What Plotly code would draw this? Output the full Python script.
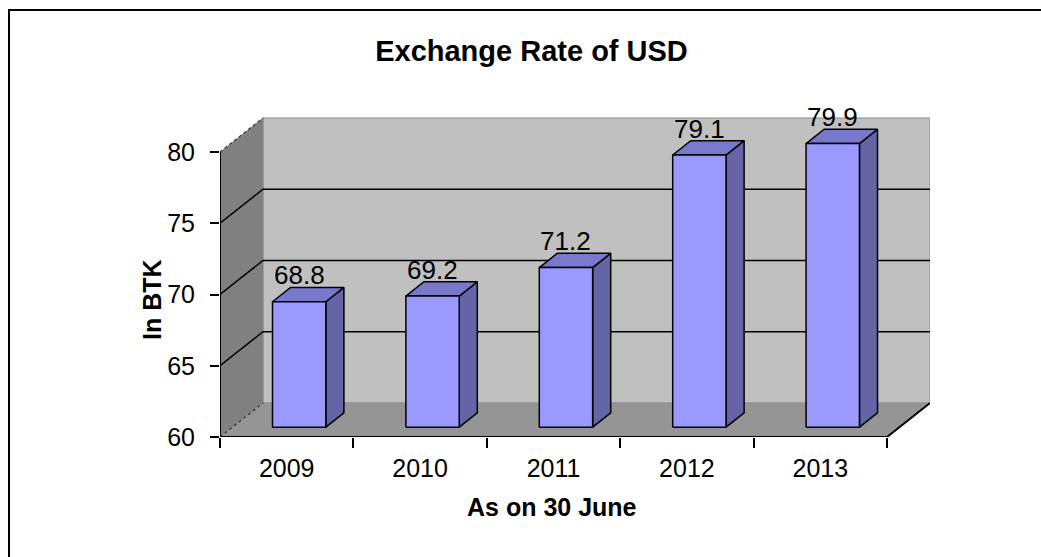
import plotly.graph_objects as go

# ---------------- data ----------------
years = ["2009", "2010", "2011", "2012", "2013"]
rates = [68.8, 69.2, 71.2, 79.1, 79.9]
y_ticks = [60, 65, 70, 75, 80]
y_min, y_max = 60, 80

# ---------------- layout geometry ----------------
FIG_W, FIG_H = 1041, 557
L, R, T, B = 220, 930, 117, 437          # plot area in px
FRONT_RIGHT, FRONT_TOP = 887, 152         # end of front x axis / y of y_max on front
n = len(years)
px_cat = (FRONT_RIGHT - L) / n
px_val = (B - FRONT_TOP) / (y_max - y_min)
x0, x1 = -0.5, n - 0.5
xr = [x0, x0 + (R - L) / px_cat]
yr = [y_min, y_min + (B - T) / px_val]

DX = 43 / px_cat          # depth offset (category units)
DY = 34 / px_val          # depth offset (value units)
BAR_W = 0.40
F_FRONT, F_BACK = 0.29, 0.71

WALL_BACK = "#C0C0C0"
WALL_SIDE = "#808080"
FLOOR = "#959595"
BAR_FRONT = "#9999FF"
BAR_SIDE = "#6464A6"
BAR_TOP = "#7878CC"
FONT = "Liberation Sans, Arial, sans-serif"

fig = go.Figure()


def poly(xs, ys, fill, line_color="black", line_w=0):
    fig.add_trace(go.Scatter(x=xs, y=ys, mode="lines", fill="toself", fillcolor=fill,
                             line=dict(color=line_color, width=line_w),
                             hoverinfo="skip", showlegend=False))


def lines(xs, ys, color="black", width=1.5, dash="solid"):
    fig.add_trace(go.Scatter(x=xs, y=ys, mode="lines",
                             line=dict(color=color, width=width, dash=dash),
                             hoverinfo="skip", showlegend=False))


# back wall
poly([x0 + DX, x1 + DX, x1 + DX, x0 + DX, x0 + DX],
     [y_min + DY, y_min + DY, y_max + DY, y_max + DY, y_min + DY], WALL_BACK, "#8a8a8a", 1)
# side wall
poly([x0, x0 + DX, x0 + DX, x0, x0],
     [y_min, y_min + DY, y_max + DY, y_max, y_min], WALL_SIDE, "#808080", 0.5)
# floor
poly([x0, x1, x1 + DX, x0 + DX, x0],
     [y_min, y_min, y_min + DY, y_min + DY, y_min], FLOOR, "#8a8a8a", 0.5)

# gridlines (side wall + back wall)
gx, gy = [], []
for v in y_ticks[1:-1]:
    gx += [x0, x0 + DX, x1 + DX, None]
    gy += [v, v + DY, v + DY, None]
lines(gx, gy, "black", 1.5)

# dashed side-wall edges
lines([x0, x0 + DX, None, x0, x0 + DX], [y_max, y_max + DY, None, y_min, y_min + DY],
      "#333333", 1.2, "3px,3px")

# axis lines: y axis, front floor edge, right floor edge
lines([x0, x0, None, x0, x1, x1 + DX], [y_max, y_min, None, y_min, y_min, y_min + DY], "black", 2)

# bars
for i, v in enumerate(rates):
    lft = i - BAR_W / 2
    rgt = i + BAR_W / 2
    fx, fy = F_FRONT * DX, F_FRONT * DY
    bx, by = F_BACK * DX, F_BACK * DY
    # side face
    poly([rgt + fx, rgt + bx, rgt + bx, rgt + fx, rgt + fx],
         [y_min + fy, y_min + by, v + by, v + fy, y_min + fy], BAR_SIDE, "black", 1.5)
    # top face
    poly([lft + fx, rgt + fx, rgt + bx, lft + bx, lft + fx],
         [v + fy, v + fy, v + by, v + by, v + fy], BAR_TOP, "black", 1.5)
    # front face
    poly([lft + fx, rgt + fx, rgt + fx, lft + fx, lft + fx],
         [y_min + fy, y_min + fy, v + fy, v + fy, y_min + fy], BAR_FRONT, "black", 1.5)
    fig.add_annotation(x=i + fx, y=v + by, text=f"{v:.1f}", showarrow=False,
                       xanchor="center", yanchor="bottom", yshift=-5,
                       font=dict(family=FONT, size=26, color="black"))


def paper_x(px):
    return (px - L) / (R - L)


def paper_y(py):
    return (B - py) / (B - T)


# axis titles
fig.add_annotation(x=paper_x(152), y=paper_y(300), xref="paper", yref="paper",
                   text="<b>In BTK</b>", textangle=-90, showarrow=False,
                   xanchor="center", yanchor="middle",
                   font=dict(family=FONT, size=25, color="black"))
fig.add_annotation(x=paper_x(552), y=paper_y(507), xref="paper", yref="paper",
                   text="<b>As on 30 June</b>", showarrow=False,
                   xanchor="center", yanchor="middle",
                   font=dict(family=FONT, size=25, color="black"))

# outer border
fig.add_shape(type="rect", xref="paper", yref="paper",
              x0=paper_x(9), x1=paper_x(FIG_W + 10), y0=paper_y(10), y1=paper_y(FIG_H + 10),
              line=dict(color="black", width=2), fillcolor="rgba(0,0,0,0)")

fig.update_layout(
    width=FIG_W, height=FIG_H, autosize=False,
    margin=dict(l=L, r=FIG_W - R, t=T, b=FIG_H - B, pad=0),
    paper_bgcolor="white", plot_bgcolor="white", showlegend=False,
    title=dict(text="<b>Exchange Rate of USD</b>", x=531.5 / FIG_W, xref="container",
               xanchor="center", y=1 - 51 / FIG_H, yref="container", yanchor="middle",
               font=dict(family=FONT, size=29, color="black")),
    xaxis=dict(range=xr, tickmode="array", tickvals=list(range(n)), ticktext=years,
               ticks="outside", ticklen=9, tickcolor="rgba(0,0,0,0)",
               showgrid=False, zeroline=False, showline=False, fixedrange=True,
               tickfont=dict(family=FONT, size=25, color="black"),
               minor=dict(tickmode="array", tickvals=[k - 0.5 for k in range(n + 1)],
                          ticks="outside", ticklen=10, tickwidth=1.5, tickcolor="black",
                          showgrid=False)),
    yaxis=dict(range=yr, tickmode="array", tickvals=y_ticks,
               ticks="outside", ticklen=9, tickwidth=1.5, tickcolor="black",
               ticklabelstandoff=10,
               showgrid=False, zeroline=False, showline=False, fixedrange=True,
               tickfont=dict(family=FONT, size=25, color="black")),
)

fig.write_html("out.html", config={"displayModeBar": False})
